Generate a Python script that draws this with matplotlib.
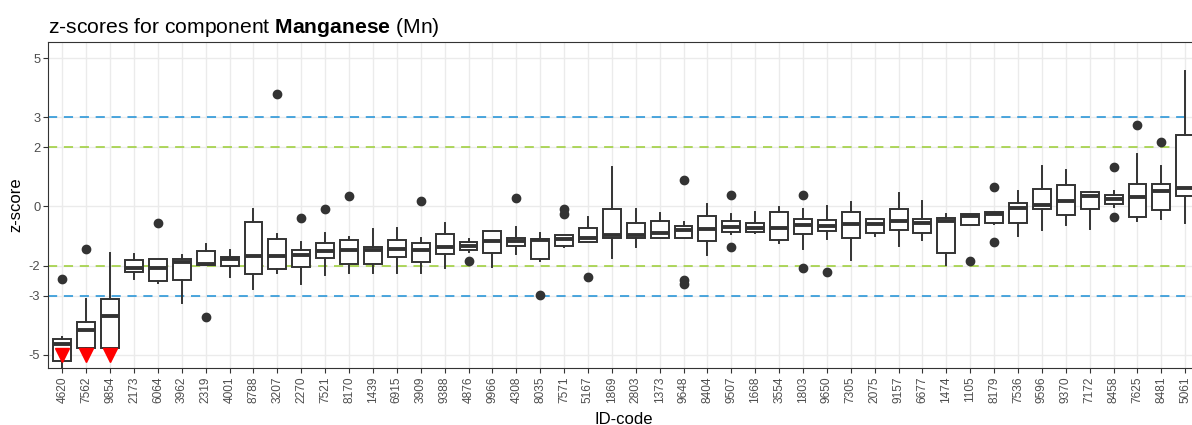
import matplotlib
matplotlib.use("Agg")
import matplotlib.pyplot as plt

plt.rcParams['font.family'] = ['Liberation Sans', 'DejaVu Sans']
plt.rcParams['mathtext.fontset'] = 'custom'
plt.rcParams['mathtext.rm'] = 'Liberation Sans'
plt.rcParams['mathtext.bf'] = 'Liberation Sans:bold'

id_codes = ["4620", "7562", "9854", "2173", "6064", "3962", "2319", "4001", "8788", "3207",
            "2270", "7521", "8170", "1439", "6915", "3909", "9388", "4876", "9966", "4308",
            "8035", "7571", "5167", "1869", "2803", "1373", "9648", "8404", "9507", "1668",
            "3554", "1803", "9650", "7305", "2075", "9157", "6677", "1474", "1105", "8179",
            "7536", "9596", "9370", "7172", "8458", "7625", "8481", "5061"]

whisker_low = [-6.00, -4.95, -4.95, -2.43, -2.59, -3.24, -1.98, -2.38, -2.77, -2.24,
               -2.62, -2.32, -2.23, -2.23, -2.23, -2.23, -2.08, -1.52, -2.04, -1.59,
               -1.83, -1.38, -1.18, -1.74, -1.36, -1.07, -1.07, -1.64, -0.93, -0.89,
               -1.24, -1.42, -1.10, -1.80, -0.99, -1.33, -1.12, -1.98, -0.62, -0.60,
               -0.99, -0.79, -0.63, -0.76, -0.03, -0.48, -0.41, -0.57]
box_low = [-5.21, -4.76, -4.76, -2.19, -2.50, -2.47, -1.98, -2.00, -2.27, -2.10,
           -2.03, -1.72, -1.95, -1.95, -1.70, -1.87, -1.61, -1.45, -1.56, -1.32,
           -1.77, -1.32, -1.18, -1.07, -1.07, -1.07, -1.07, -1.16, -0.85, -0.85,
           -1.12, -0.93, -0.82, -1.05, -0.88, -0.80, -0.88, -1.55, -0.62, -0.54,
           -0.54, -0.07, -0.28, -0.07, 0.10, -0.34, -0.11, 0.34]
median = [-4.63, -4.15, -3.69, -2.08, -2.06, -1.88, -1.93, -1.78, -1.67, -1.67,
          -1.63, -1.50, -1.47, -1.46, -1.44, -1.45, -1.38, -1.32, -1.16, -1.16,
          -1.13, -1.11, -1.05, -0.97, -0.96, -0.88, -0.79, -0.76, -0.69, -0.71,
          -0.71, -0.62, -0.65, -0.60, -0.60, -0.48, -0.56, -0.48, -0.31, -0.26,
          -0.05, 0.06, 0.17, 0.34, 0.25, 0.33, 0.53, 0.62]
box_high = [-4.45, -3.88, -3.13, -1.80, -1.77, -1.78, -1.50, -1.70, -0.52, -1.10,
            -1.46, -1.24, -1.14, -1.38, -1.14, -1.24, -0.93, -1.18, -0.84, -1.05,
            -1.10, -0.97, -0.74, -0.09, -0.57, -0.48, -0.65, -0.31, -0.48, -0.54,
            -0.20, -0.43, -0.46, -0.20, -0.43, -0.07, -0.41, -0.39, -0.24, -0.18,
            0.11, 0.59, 0.72, 0.50, 0.38, 0.76, 0.76, 2.41]
whisker_high = [-4.40, -3.13, -1.55, -1.61, -1.77, -1.64, -1.27, -1.45, -0.09, -0.93,
                -1.18, -0.88, -1.02, -0.76, -0.74, -1.05, -0.56, -1.10, -0.81, -0.69,
                -0.90, -0.97, -0.35, 1.32, -0.09, -0.22, -0.51, 0.08, -0.26, -0.20,
                -0.03, -0.09, 0.02, 0.14, -0.43, 0.47, 0.17, -0.26, -0.24, -0.18,
                0.53, 1.38, 1.24, 0.50, 0.51, 1.77, 1.35, 4.58]
outliers = [[-2.43], [-1.42], [], [], [-0.57], [], [-3.72], [], [], [3.80],
            [-0.39], [-0.08], [0.34], [], [], [0.17], [], [-1.83], [], [0.30],
            [-2.99], [-0.09, -0.24], [-2.36], [], [], [], [0.88, -2.48, -2.62], [], [0.38, -1.36], [],
            [], [0.38, -2.08], [-2.20], [], [], [], [], [], [-1.83], [0.64, -1.19],
            [], [], [], [], [1.32, -0.34], [2.76], [2.16], []]
below_range = ["4620", "7562", "9854"]

y_ticks = [-5, -3, -2, 0, 2, 3, 5]
warning_limits = [-2, 2]
action_limits = [-3, 3]
floor_value = -5

W, H = 1192, 425
fig = plt.figure(figsize=(W / 100, H / 100), dpi=100)
left, right, top, bottom = 48, 1199.6, 42, 368
ax = fig.add_axes([left / W, 1 - bottom / H, (right - left) / W, (bottom - top) / H])

positions = list(range(len(id_codes)))
stats = []
for i in positions:
    stats.append(dict(med=median[i], q1=box_low[i], q3=box_high[i],
                      whislo=whisker_low[i], whishi=whisker_high[i],
                      fliers=outliers[i]))

dark = '#333333'
ax.bxp(stats, positions=positions, widths=0.75, showcaps=False, patch_artist=True,
       boxprops=dict(facecolor='white', edgecolor=dark, linewidth=1.4),
       whiskerprops=dict(color=dark, linewidth=1.4),
       medianprops=dict(color=dark, linewidth=2.8, solid_capstyle='butt'),
       flierprops=dict(marker='o', markerfacecolor=dark, markeredgecolor=dark,
                       markersize=6, linestyle='none'),
       zorder=3)

for v in action_limits:
    ax.axhline(v, color='#1B8FD6', linewidth=1.1, linestyle=(0, (6, 4.4)), zorder=2)
for v in warning_limits:
    ax.axhline(v, color='#9ACD32', linewidth=1.1, linestyle=(0, (6, 4.4)), zorder=2)

bx = [id_codes.index(c) for c in below_range]
ax.plot(bx, [floor_value] * len(bx), linestyle='none', marker='v', color='#FF0000',
        markersize=10, zorder=4)

ax.set_xlim(-0.6, len(id_codes) - 1 + 0.6)
ax.set_ylim(-5.44, 5.54)
ax.set_yticks(y_ticks)
ax.set_yticklabels([str(t) for t in y_ticks])
ax.set_xticks(positions)
ax.set_xticklabels(id_codes, rotation=90)

ax.set_axisbelow(True)
ax.grid(True, color='#EBEBEB', linewidth=1.0)
for s in ax.spines.values():
    s.set_color(dark)
    s.set_linewidth(0.8)
ax.tick_params(axis='both', colors=dark, length=3.5, width=0.8)
ax.tick_params(axis='x', labelsize=8.6, labelcolor='#4D4D4D', pad=2.5)
ax.tick_params(axis='y', labelsize=9.3, labelcolor='#4D4D4D', pad=2)

ax.set_xlabel('ID-code', fontsize=12, color='black')
ax.xaxis.set_label_coords(0.5, -0.157)
ax.xaxis.label.set_va('center')
ax.set_ylabel('z-score', fontsize=12, color='black')
ax.yaxis.set_label_coords(-0.0278, 0.5)
ax.yaxis.label.set_va('center')

fig.text(48 / W, 1 - 33 / H, r"z-scores for component $\mathbf{Manganese}$ (Mn)",
         fontsize=15.2, color='black', ha='left', va='baseline')

fig.savefig('out.png', dpi=100)
